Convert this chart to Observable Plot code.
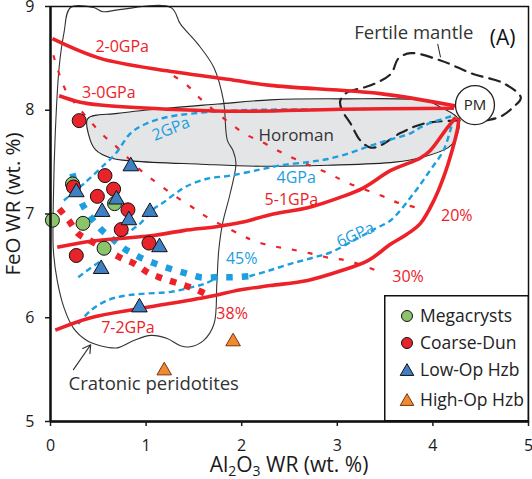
<!DOCTYPE html>
<html>
<head>
<meta charset="utf-8">
<script src="https://cdn.jsdelivr.net/npm/d3@7"></script>
<script src="https://cdn.jsdelivr.net/npm/@observablehq/plot@0.6"></script>
<style>
  html,body{margin:0;padding:0;background:#fff;}
  #chart{position:relative;width:532px;height:479px;font-family:"Open Sans",sans-serif;color:#1a1a1a;}
  #legend{position:absolute;left:384px;top:295px;}
  .axlab{position:absolute;font-size:21px;text-align:center;white-space:nowrap;}
  #xlab{left:0;width:578px;top:455px;line-height:18px;}
  #xlab sub{font-size:14px;vertical-align:-4px;line-height:0;}
</style>
</head>
<body>
<div id="chart"></div>
<script>
// ---------- data (Al2O3 wt.%, FeO wt.%) ----------
const xTicks = [0, 1, 2, 3, 4, 5];
const yTicks = [5, 6, 7, 8, 9];

const megacrysts = [[0.02,6.94],[0.34,6.91],[0.23,7.29],[0.67,7.10],[0.56,6.67]];
const coarseDun  = [[0.30,7.90],[0.24,7.26],[0.57,7.37],[0.66,7.24],[0.49,7.17],[0.81,7.04],[0.74,6.85],[1.03,6.72],[0.27,6.60]];
const lowOpHzb   = [[0.84,7.46],[0.27,7.21],[0.69,7.14],[0.54,7.02],[0.82,6.94],[1.04,7.02],[1.14,6.68],[0.53,6.47],[0.93,6.10]];
const highOpHzb  = [[1.19,5.49],[1.91,5.77]];
const primitiveMantle = [[4.44,8.05]];

// melting paths (red, solid)
const path2_0GPa = [[0.02,8.69],[0.52,8.50],[1.22,8.38],[1.92,8.29],[2.30,8.24],[3.45,8.16],[4.24,8.04]];
const path3_0GPa = [[0.09,8.14],[0.30,8.08],[0.52,8.05],[1.22,8.01],[2.00,7.99],[3.03,8.01],[4.22,8.02]];
const path5_1GPa = [[0.07,6.68],[0.44,6.74],[1.05,6.79],[1.39,6.84],[1.75,6.88],[2.00,6.92],[2.33,7.00],[2.69,7.06],[3.03,7.16],[3.27,7.25],[3.56,7.42],[3.87,7.54],[3.97,7.61],[4.15,7.83],[4.24,7.93]];
const path7_2GPa = [[0.05,5.88],[0.42,6.00],[0.94,6.09],[1.64,6.20],[1.99,6.27],[2.30,6.31],[2.69,6.36],[3.03,6.45],[3.32,6.55],[3.56,6.71],[3.72,6.80],[3.87,6.91],[4.01,7.13],[4.11,7.35],[4.20,7.61],[4.26,7.83],[4.27,7.93]];

// melt-fraction isopleths (red, dotted)
const melt20 = [[1.29,8.33],[1.43,8.24],[1.57,8.11],[2.02,7.78],[2.22,7.69],[2.38,7.61],[2.56,7.53],[2.91,7.39],[3.11,7.30],[3.45,7.18],[3.63,7.11],[3.84,7.06]];
const melt30 = [[0.03,8.53],[0.16,8.19],[0.29,8.03],[0.54,7.77],[0.70,7.64],[0.97,7.40],[1.13,7.29],[1.29,7.18],[1.46,7.08],[1.62,6.98],[1.99,6.80],[2.13,6.74],[2.33,6.69],[2.51,6.66],[2.72,6.62],[2.90,6.58],[3.11,6.55],[3.45,6.44]];
const melt38 = [[0.09,7.05],[0.19,6.94],[0.29,6.81],[0.44,6.73],[0.73,6.58],[0.88,6.52],[1.03,6.43],[1.17,6.38],[1.34,6.33],[1.50,6.28],[1.67,6.21]];
const melt45 = [[0.23,7.39],[0.33,7.10],[0.52,6.86],[0.66,6.75],[0.78,6.66],[0.94,6.58],[1.10,6.52],[1.26,6.47],[1.41,6.43],[1.57,6.39],[1.73,6.39],[1.90,6.39],[2.08,6.40]];

// isobaric melting paths (blue, dashed)
const iso2GPa = [[0.14,7.13],[0.37,7.31],[0.58,7.49],[0.68,7.58],[0.84,7.78],[1.00,7.87],[1.20,7.93],[1.50,7.97],[2.00,8.00],[3.00,8.01],[4.22,8.02]];
const iso4GPa = [[0.66,6.76],[0.76,6.79],[0.87,6.86],[0.94,6.91],[1.03,7.00],[1.08,7.05],[1.18,7.11],[1.31,7.20],[1.43,7.27],[1.64,7.34],[1.88,7.37],[2.20,7.43],[2.41,7.47],[2.69,7.50],[2.90,7.53],[3.14,7.59],[3.35,7.66],[3.53,7.71],[3.77,7.78],[3.90,7.85],[4.22,7.95]];
const iso6GPa = [[2.08,6.40],[2.27,6.45],[2.51,6.52],[2.75,6.58],[2.93,6.63],[3.20,6.76],[3.40,6.86],[3.56,6.94],[3.80,7.20],[3.97,7.42],[4.11,7.61],[4.18,7.80],[4.22,7.93]];
const isoLowA = [[0.29,5.94],[0.42,6.07],[0.60,6.17],[0.76,6.21],[0.95,6.23],[1.26,6.25],[1.46,6.29],[1.62,6.33],[1.75,6.39]];
const isoLowB = [[0.29,6.39],[0.42,6.48],[0.55,6.56]];

// fields
const horomanField = [[0.39,7.92],[0.70,7.97],[1.22,8.02],[1.75,8.06],[2.30,8.10],[3.03,8.11],[3.94,8.09],[4.08,8.03],[4.27,7.91],[4.23,7.71],[4.16,7.64],[3.90,7.55],[3.60,7.50],[2.90,7.47],[2.20,7.46],[1.57,7.48],[0.87,7.51],[0.63,7.54],[0.47,7.62],[0.40,7.76]];
const cratonicField = [[0.21,8.99],[0.14,8.74],[0.09,8.41],[0.05,7.78],[0.03,7.13],[0.03,6.65],[0.07,6.36],[0.14,6.10],[0.24,5.90],[0.38,5.78],[0.52,5.73],[0.70,5.71],[0.87,5.78],[1.05,5.83],[1.22,5.80],[1.36,5.73],[1.46,5.72],[1.60,5.78],[1.71,5.94],[1.74,6.33],[1.76,6.65],[1.80,6.91],[1.88,7.20],[1.94,7.49],[1.91,7.61],[1.85,7.71],[1.81,8.09],[1.71,8.41],[1.54,8.64],[1.36,8.83],[1.26,8.99],[0.72,8.97],[0.55,8.95],[0.45,8.99]];
const fertileField = [[3.03,8.09],[3.10,8.17],[3.35,8.24],[3.56,8.35],[3.64,8.50],[3.77,8.55],[4.08,8.48],[4.42,8.35],[4.74,8.26],[4.92,8.12],[4.84,8.03],[4.73,7.95],[4.60,7.91],[4.37,7.90],[4.21,7.90],[3.90,7.87],[3.66,7.78],[3.45,7.66],[3.35,7.64],[3.24,7.71],[3.14,7.87],[3.05,8.00]];
const fertileCallout = [[4.05,8.64],[4.08,8.51]];
const cratonArrow = [[0.24,5.50,0.42,5.74]];

// annotation texts
const redLabels   = [["2-0GPa",0.75,8.61],["3-0GPa",0.61,8.17],["5-1GPa",2.52,7.14],["20%",4.25,6.98],["30%",3.74,6.39],["38%",1.90,6.04],["7-2GPa",0.81,5.90]];
const blueLabels  = [["4GPa",2.57,7.35],["45%",2.00,6.57]];
const blueRotLabels = [["2GPa",1.26,7.82,-22],["6GPa",3.19,6.80,-24]];
const inkLabels   = [["Horoman",2.57,7.76,17],["Cratonic peridotites",1.08,5.36,18.5],["Fertile mantle",3.80,8.74,18.5]];
const panelLabel  = [["(A)",4.73,8.69]];
const pmLabel     = [["PM",4.44,8.05]];

const legendNames = ["Megacrysts","Coarse-Dun","Low-Op Hzb","High-Op Hzb"];
const xLabelHTML = "Al<sub>2</sub>O<sub>3</sub> WR (wt. %)";
const yLabel = "FeO WR (wt. %)";

// ---------- styles ----------
const RED = "#ec2228", BLUE = "#1d9ee0";
const C_GREEN = "#8cc46b", C_RED = "#e8242a", C_BLUE = "#3f7fc3", C_ORANGE = "#f08a30";
const P = a => a.map(([x,y]) => ({x, y}));
const T = a => a.map(([t,x,y,r]) => ({t, x, y, r}));
const ln = (d, o) => Plot.line(P(d), {x: "x", y: "y", curve: "catmull-rom", strokeLinecap: "butt", ...o});

const plot = Plot.plot({
  width: 532, height: 479,
  marginLeft: 50, marginRight: 4, marginTop: 6, marginBottom: 58,
  x: {domain: [0, 5]},
  y: {domain: [5, 9]},
  style: {fontFamily: "'Open Sans', sans-serif", color: "#1a1a1a", background: "#fff"},
  marks: [
    // fields
    Plot.line(P(horomanField), {x: "x", y: "y", curve: "catmull-rom-closed", fill: "#e4e5e7", stroke: "#222", strokeWidth: 1.1}),
    Plot.line(P(cratonicField), {x: "x", y: "y", curve: "catmull-rom-closed", stroke: "#333", strokeWidth: 1.1}),
    Plot.line(P(fertileField), {x: "x", y: "y", curve: "catmull-rom-closed", stroke: "#222", strokeWidth: 2.2, strokeDasharray: "11,7"}),
    ln(fertileCallout, {stroke: "#222", strokeWidth: 1}),
    Plot.arrow(cratonArrow, {x1: d => d[0], y1: d => d[1], x2: d => d[2], y2: d => d[3], stroke: "#333", strokeWidth: 1.2, headLength: 11}),
    // red dotted isopleths
    ln(melt20, {stroke: RED, strokeWidth: 2.2, strokeDasharray: "5,11"}),
    ln(melt30, {stroke: RED, strokeWidth: 2.2, strokeDasharray: "5,11"}),
    // blue dashed isobars
    ln(iso2GPa, {stroke: BLUE, strokeWidth: 2.4, strokeDasharray: "6,4"}),
    ln(iso4GPa, {stroke: BLUE, strokeWidth: 2.4, strokeDasharray: "6,4"}),
    ln(iso6GPa, {stroke: BLUE, strokeWidth: 2.4, strokeDasharray: "6,4"}),
    ln(isoLowA, {stroke: BLUE, strokeWidth: 2.4, strokeDasharray: "6,4"}),
    ln(isoLowB, {stroke: BLUE, strokeWidth: 2.4, strokeDasharray: "6,4"}),
    // thick dotted
    ln(melt45, {stroke: BLUE, strokeWidth: 6.5, strokeDasharray: "6.5,9"}),
    ln(melt38, {stroke: RED, strokeWidth: 6.5, strokeDasharray: "6.5,8.5"}),
    // red solid paths
    ln(path2_0GPa, {stroke: RED, strokeWidth: 3.6}),
    ln(path3_0GPa, {stroke: RED, strokeWidth: 3.6}),
    ln(path5_1GPa, {stroke: RED, strokeWidth: 3.6}),
    ln(path7_2GPa, {stroke: RED, strokeWidth: 3.6}),
    // PM
    Plot.dot(P(primitiveMantle), {x: "x", y: "y", r: 19.5, fill: "#fff", stroke: "#222", strokeWidth: 1.3}),
    // samples
    Plot.dot(P(megacrysts), {x: "x", y: "y", r: 7, fill: C_GREEN, stroke: "#111", strokeWidth: 1}),
    Plot.dot(P(coarseDun), {x: "x", y: "y", r: 7, fill: C_RED, stroke: "#111", strokeWidth: 1}),
    Plot.dot(P(lowOpHzb), {x: "x", y: "y", r: 5.8, symbol: "triangle", fill: C_BLUE, stroke: "#111", strokeWidth: 1}),
    Plot.dot(P(highOpHzb), {x: "x", y: "y", r: 5.4, symbol: "triangle", fill: C_ORANGE, stroke: "#7a3210", strokeWidth: 1}),
    // frame & axes
    Plot.frame({stroke: "#111", strokeWidth: 1.5}),
    Plot.ruleX([0], {stroke: "#111", strokeWidth: 2.4}),
    Plot.ruleY([5], {stroke: "#111", strokeWidth: 2.4}),
    Plot.axisX({ticks: xTicks, tickFormat: "d", tickSize: 5, tickPadding: 13, fontSize: 16, label: null, strokeWidth: 1.5}),
    Plot.axisY({ticks: yTicks, tickFormat: "d", tickSize: 5, tickPadding: 11, fontSize: 16, label: null, strokeWidth: 1.5}),
    Plot.text([yLabel], {frameAnchor: "left", textAnchor: "middle", lineAnchor: "middle", dx: -37, dy: -10, rotate: -90, fontSize: 20.5, fill: "#1a1a1a"}),
    // annotations
    Plot.text(T(redLabels), {x: "x", y: "y", text: "t", fill: RED, fontSize: 16}),
    Plot.text(T(blueLabels), {x: "x", y: "y", text: "t", fill: BLUE, fontSize: 16}),
    Plot.text(T(blueRotLabels), {x: "x", y: "y", text: "t", rotate: "r", fill: BLUE, fontSize: 16}),
    Plot.text(T(inkLabels), {x: "x", y: "y", text: "t", fill: "#333", fontSize: d => d.r}),
    Plot.text(T(panelLabel), {x: "x", y: "y", text: "t", fill: "#111", fontSize: 21}),
    Plot.text(T(pmLabel), {x: "x", y: "y", text: "t", fill: "#222", fontSize: 15})
  ]
});

const chart = document.getElementById("chart");
chart.append(plot);

// x axis title with subscripts
d3.select(chart).append("div").attr("class", "axlab").attr("id", "xlab").html(xLabelHTML);

// legend
const lg = d3.select(chart).append("div").attr("id", "legend")
  .append("svg").attr("width", 145).attr("height", 126)
  .style("font-family", "'Open Sans', sans-serif");
lg.append("rect").attr("x", 0.75).attr("y", 0.75).attr("width", 143.5).attr("height", 125).attr("fill", "#fff").attr("stroke", "#111").attr("stroke-width", 1.5);
const legendFill = [C_GREEN, C_RED, C_BLUE, C_ORANGE];
const legendShape = [d3.symbolCircle, d3.symbolCircle, d3.symbolTriangle, d3.symbolTriangle];
const legendY = [21, 48, 75, 105];
legendNames.forEach((name, i) => {
  const g = lg.append("g").attr("transform", `translate(23,${legendY[i]})`);
  g.append("path").attr("d", d3.symbol(legendShape[i], i < 2 ? 95 : 80)()).attr("transform", i < 2 ? null : "translate(0,1.5)")
    .attr("fill", legendFill[i]).attr("stroke", i === 3 ? "#7a3210" : "#111").attr("stroke-width", 1);
  g.append("text").attr("x", 13).attr("dy", "0.35em").attr("font-size", 17.5).attr("fill", "#222").text(name);
});
</script>
</body>
</html>
